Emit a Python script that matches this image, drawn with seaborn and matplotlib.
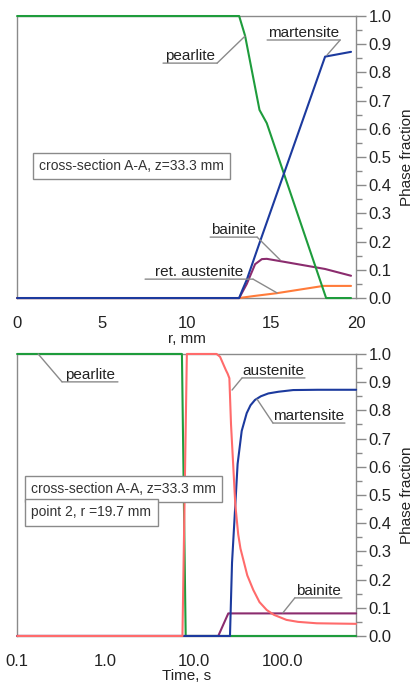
import numpy as np
import pandas as pd
import matplotlib
matplotlib.use("Agg")
import matplotlib.pyplot as plt
from matplotlib.ticker import MultipleLocator, FormatStrFormatter, FixedLocator
import seaborn as sns

# ---- top panel: phase fraction vs radius (cross-section A-A) ----
r_pearlite = [0, 13.1, 13.45, 14.3, 14.73, 18.23, 19.7]
f_pearlite = [1.0, 1.0, 0.93, 0.667, 0.62, 0.0, 0.0]

r_martensite = [0, 13.1, 13.3, 13.55, 14.3, 18.17, 19.7]
f_martensite = [0.0, 0.0, 0.03, 0.065, 0.195, 0.856, 0.873]

r_bainite = [0, 13.1, 13.55, 14.04, 14.44, 14.73, 15.7, 18.17, 19.7]
f_bainite = [0.0, 0.0, 0.05, 0.12, 0.138, 0.139, 0.129, 0.103, 0.079]

r_retaust = [0, 13.1, 13.95, 15.3, 18.07, 19.7]
f_retaust = [0.0, 0.0, 0.007, 0.017, 0.043, 0.043]

# ---- bottom panel: phase fraction vs time (point 2, r=19.7 mm) ----
t_pearlite = [0.1, 7.3, 8.05, 680]
p_pearlite = [1.0, 1.0, 0.0, 0.0]

t_austenite = [0.1, 7.4, 8.3, 18.0, 19.7, 21.0, 22.9, 24.0, 25.1, 26.2, 27.8, 29.3,
               31.6, 33.5, 36.1, 40.0, 46.8, 55.0, 66.4, 80.0, 111, 150, 244, 400, 680]
p_austenite = [0.0, 0.0, 1.0, 1.0, 0.99, 0.97, 0.943, 0.93, 0.914, 0.75, 0.6, 0.465,
               0.36, 0.31, 0.27, 0.215, 0.163, 0.12, 0.092, 0.075, 0.057, 0.05, 0.045, 0.044, 0.043]

t_martensite = [0.1, 25.5, 26.9, 29.3, 31.1, 34.6, 39.4, 43.5, 48.9, 57.0, 69.2, 90.0,
                132, 250, 680]
p_martensite = [0.0, 0.0, 0.26, 0.465, 0.61, 0.727, 0.79, 0.818, 0.837, 0.85, 0.86, 0.866,
                0.872, 0.873, 0.873]

t_bainite = [0.1, 18.8, 24.4, 680]
p_bainite = [0.0, 0.0, 0.08, 0.08]

GREEN = "#1e9c3c"
BLUE = "#1c3a9e"
PURPLE = "#8b2c6e"
ORANGE = "#ff7b3a"
RED = "#ff6b6b"
GRAY = "#8a8a8a"

sns.set_style("white")
plt.rcParams["font.family"] = ["Liberation Sans", "DejaVu Sans"]

fig = plt.figure(figsize=(4.17, 6.82), dpi=100)
ax1 = fig.add_axes([0.041, 0.563, 0.813, 0.4135])
ax2 = fig.add_axes([0.041, 0.0675, 0.813, 0.4135])

lw = 1.5
kw = dict(lw=lw, clip_on=False, zorder=3)
sns.lineplot(x=r_retaust, y=f_retaust, color=ORANGE, ax=ax1, **kw)
sns.lineplot(x=r_bainite, y=f_bainite, color=PURPLE, ax=ax1, **kw)
sns.lineplot(x=r_pearlite, y=f_pearlite, color=GREEN, ax=ax1, **kw)
sns.lineplot(x=r_martensite, y=f_martensite, color=BLUE, ax=ax1, **kw)

sns.lineplot(x=t_pearlite, y=p_pearlite, color=GREEN, ax=ax2, **kw)
sns.lineplot(x=t_bainite, y=p_bainite, color=PURPLE, ax=ax2, **kw)
sns.lineplot(x=t_martensite, y=p_martensite, color=BLUE, ax=ax2, **kw)
sns.lineplot(x=t_austenite, y=p_austenite, color=RED, ax=ax2, **kw)


def style_axes(ax):
    for s in ax.spines.values():
        s.set_color(GRAY)
        s.set_linewidth(1.0)
        s.set_zorder(1)
    ax.set_ylim(0, 1.0)
    ax.yaxis.tick_right()
    ax.yaxis.set_label_position("right")
    ax.yaxis.set_major_locator(MultipleLocator(0.1))
    ax.yaxis.set_minor_locator(MultipleLocator(0.05))
    ax.yaxis.set_major_formatter(FormatStrFormatter("%.1f"))
    ax.tick_params(which="both", direction="out", color=GRAY, width=1.0)
    ax.tick_params(which="major", length=7, labelsize=12, labelcolor="#222222", pad=2)
    ax.tick_params(which="minor", length=4)
    ax.tick_params(axis="x", which="major", pad=6)
    ax.set_ylabel("Phase fraction", fontsize=11, color="#222222", labelpad=6)


style_axes(ax1)
ax1.set_xlim(0, 20)
ax1.xaxis.set_major_locator(MultipleLocator(5))
ax1.xaxis.set_minor_locator(MultipleLocator(1))
ax1.set_xlabel("r, mm", fontsize=11, color="#222222", labelpad=1)

ax2.set_xscale("log")
style_axes(ax2)
ax2.set_xlim(0.1, 680)
minor_t = [k * 10.0 ** d for d in range(-1, 3) for k in range(2, 10)]
ax2.xaxis.set_major_locator(FixedLocator([0.1, 1, 10, 100]))
ax2.xaxis.set_minor_locator(FixedLocator(minor_t))
ax2.xaxis.set_major_formatter(FormatStrFormatter("%.1f"))
ax2.xaxis.set_minor_formatter(plt.NullFormatter())
ax2.set_xlabel("Time, s", fontsize=11, color="#222222", labelpad=0)


def tag(ax, text, x0, x1, y, target, log=False):
    xm = np.sqrt(x0 * x1) if log else (x0 + x1) / 2
    ax.text(xm, y, text, ha="center", va="bottom", fontsize=11, color="#222222")
    ax.annotate("", xy=(x0, y), xytext=(x1, y),
                arrowprops=dict(arrowstyle="-", color=GRAY, lw=1.0, shrinkA=0, shrinkB=0))
    if log:
        d0, d1 = abs(np.log(target[0] / x0)), abs(np.log(target[0] / x1))
    else:
        d0, d1 = abs(target[0] - x0), abs(target[0] - x1)
    near = x0 if d0 < d1 else x1
    ax.annotate("", xy=target, xytext=(near, y),
                arrowprops=dict(arrowstyle="-", color=GRAY, lw=1.0, shrinkA=0, shrinkB=0))


tag(ax1, "pearlite", 8.61, 11.8, 0.833, (13.45, 0.929))
tag(ax1, "martensite", 14.75, 19.06, 0.915, (18.29, 0.862))
tag(ax1, "bainite", 11.39, 14.16, 0.216, (15.52, 0.135))
tag(ax1, "ret. austenite", 7.55, 13.92, 0.067, (15.34, 0.018))

tag(ax2, "pearlite", 0.322, 1.38, 0.901, (0.173, 1.0), log=True)
tag(ax2, "austenite", 34.9, 179.6, 0.915, (26.9, 0.872), log=True)
tag(ax2, "martensite", 78.1, 508, 0.755, (51.5, 0.84), log=True)
tag(ax2, "bainite", 138, 470, 0.135, (101, 0.082), log=True)

box = dict(boxstyle="square,pad=0.45", fc="white", ec=GRAY, lw=1.0)
ax1.text(0.065, 0.468, "cross-section A-A, z=33.3 mm", transform=ax1.transAxes,
         ha="left", va="center", fontsize=10, color="#333333", bbox=box)
ax2.text(0.042, 0.521, "cross-section A-A, z=33.3 mm", transform=ax2.transAxes,
         ha="left", va="center", fontsize=10, color="#333333", bbox=box)
ax2.text(0.042, 0.438, "point 2, r =19.7 mm", transform=ax2.transAxes,
         ha="left", va="center", fontsize=10, color="#333333", bbox=box)

fig.savefig("out.png", dpi=100)
